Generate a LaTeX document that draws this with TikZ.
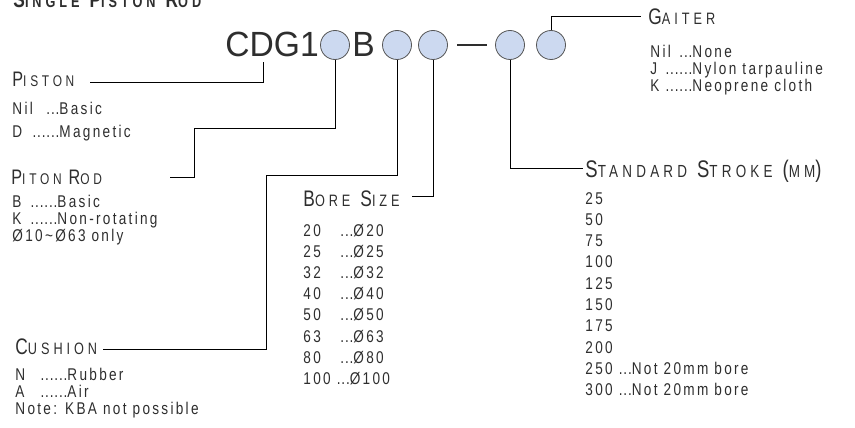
\documentclass[tikz,border=0pt]{standalone}
\usepackage{fontspec}
\setmainfont{Liberation Sans}[FakeStretch=0.8, LetterSpace=13.5]
\newfontfamily\headfont{Liberation Sans}[FakeStretch=0.77, LetterSpace=24]
\newfontfamily\codefont{Liberation Sans}[FakeStretch=0.96]
\definecolor{ink}{HTML}{2E2E2E}
\definecolor{bubble}{HTML}{CCD9F0}
\definecolor{rim}{HTML}{555555}

\newcommand\hdbig{22.5}
\newcommand\hdsmall{16.5}
\newcommand\capword[2]{{\fontsize{\hdbig}{\hdbig}\selectfont #1}{\fontsize{\hdsmall}{\hdsmall}\selectfont #2}}
\newcommand\hdgap{\hspace{10pt}}
\newcommand\dotrun[1]{{\addfontfeature{LetterSpace=5}#1}}
\newcommand\opt[4]{\makebox[#1][l]{#2}\llap{\dotrun{#3}}#4}

\begin{document}
\begin{tikzpicture}[x=1pt, y=-1pt, line width=0.9pt,
    lbl/.style={inner sep=0pt, anchor=base west, text=ink},
    head/.style={lbl, font=\headfont},
    code/.style={lbl, font=\codefont\fontsize{35}{35}\selectfont},
    list/.style={lbl, align=left, font=\fontsize{17}{#1}\selectfont},
    bub/.style={circle, draw=rim, fill=bubble, line width=0.8pt, minimum size=29pt, inner sep=0pt}
    ]
    \useasboundingbox (0,0) rectangle (855,428);

    \node [head, font=\headfont\bfseries] (title) at (13,7.5) {\capword{S}{INGLE}\hdgap\capword{P}{ISTON}\hdgap\capword{R}{OD}};

    % order code
    \node [code] (cdg) at (225,57) {CDG1};
    \node [bub] (c1) at (335,45) {};
    \node [code] (b) at (352,57) {B};
    \node [bub] (c2) at (397,45) {};
    \node [bub] (c3) at (433,45) {};
    \node [fill=ink, minimum width=30pt, minimum height=2.6pt, inner sep=0pt] (dash) at (472,45) {};
    \node [bub] (c4) at (510,45) {};
    \node [bub] (c5) at (551,45) {};
    \coordinate (dfoot) at (263,62);

    % headings
    \node [head] (piston) at (12,87) {\renewcommand\hdbig{21}\renewcommand\hdsmall{15.5}\capword{P}{ISTON}};
    \node [head] (rod) at (11,184) {\renewcommand\hdbig{21}\renewcommand\hdsmall{15.5}\capword{P}{ITON}\hspace{7pt}\capword{R}{OD}};
    \node [head] (cushion) at (15,354) {\capword{C}{USHION}};
    \node [head] (bore) at (303,206) {\capword{B}{ORE}\hdgap\capword{S}{IZE}};
    \node [head] (stroke) at (585,177) {\renewcommand\hdbig{24}\renewcommand\hdsmall{17.5}\capword{S}{TANDARD}\hdgap\capword{S}{TROKE}\hdgap\capword{(}{MM}{\fontsize{\hdbig}{\hdbig}\selectfont)}};
    \node [head] (gaiter) at (648,25) {\capword{G}{AITER}};

    % option lists (placed at the baseline of their last line)
    \node [list=23.5] (pistonlist) at (12,138) {\opt{47pt}{Nil}{...}{Basic}\\ \opt{47pt}{D}{......}{Magnetic}};
    \node [list=17] (rodlist) at (12,241) {\opt{45pt}{B}{......}{Basic}\\ \opt{45pt}{K}{......}{Non-rotating}\\ Ø10{\textasciitilde}Ø63 only};
    \node [list=17] (cushionlist) at (15,414) {\opt{52pt}{N}{......}{Rubber}\\ \opt{52pt}{A}{......}{Air}\\ Note: KBA not possible};
    \node [list=17] (gaiterlist) at (650,92) {\opt{42pt}{Nil}{...}{None}\\ \opt{42pt}{J}{......}{Nylon tarpauline}\\ \opt{42pt}{K}{......}{Neoprene cloth}};
    \node [list=21.2] (borelist) at (303,384.4) {\opt{37pt}{20}{}{\dotrun{...}Ø20}\\ \opt{37pt}{25}{}{\dotrun{...}Ø25}\\ \opt{37pt}{32}{}{\dotrun{...}Ø32}\\ \opt{37pt}{40}{}{\dotrun{...}Ø40}\\ \opt{37pt}{50}{}{\dotrun{...}Ø50}\\ \opt{37pt}{63}{}{\dotrun{...}Ø63}\\ \opt{37pt}{80}{}{\dotrun{...}Ø80}\\ 100 \dotrun{...}Ø100};
    \node [list=21.3] (strokelist) at (585,395.7) {25\\ 50\\ 75\\ 100\\ 125\\ 150\\ 175\\ 200\\ 250 \dotrun{...}Not 20mm bore\\ 300 \dotrun{...}Not 20mm bore};

    % leader lines
    \coordinate (k1) at (90,82);
    \coordinate (k2) at (194,128);
    \coordinate (k3) at (170,177);
    \coordinate (k4) at (266,175);
    \coordinate (k5) at (103,349);
    \coordinate (k6) at (412,196);
    \coordinate (k7) at (583,168);
    \coordinate (k8) at (641,16);

    \draw (k1) -| (dfoot);
    \draw (c1.south) |- (k2) |- (k3);
    \draw (c2.south) |- (k4) |- (k5);
    \draw (c3.south) |- (k6);
    \draw (c4.south) |- (k7);
    \draw (c5.north) |- (k8);
\end{tikzpicture}
\end{document}
